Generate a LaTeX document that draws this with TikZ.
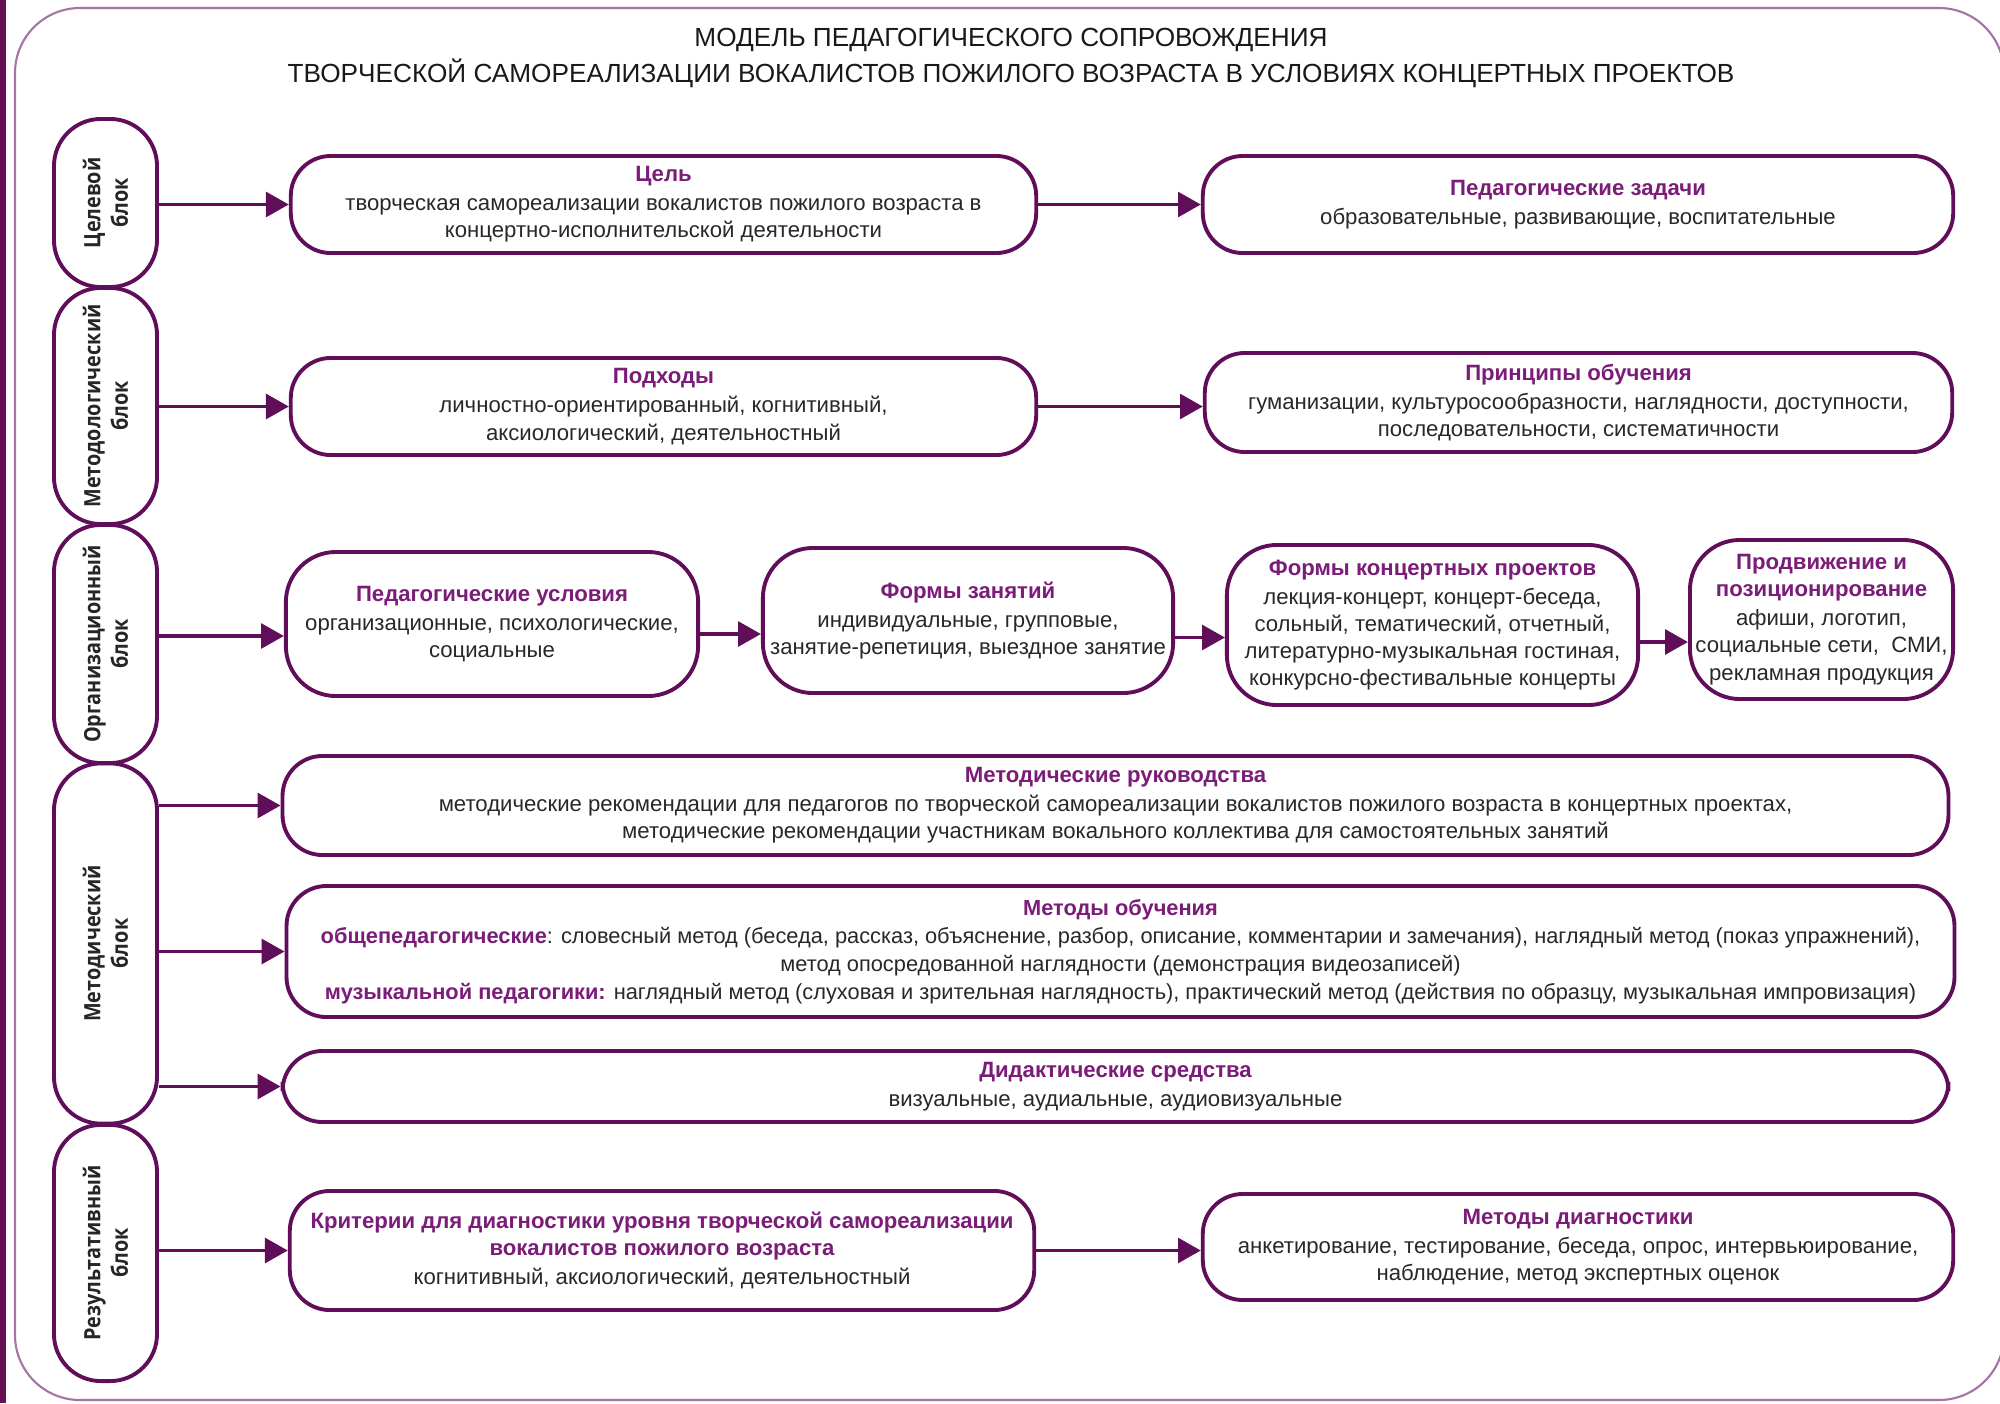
\documentclass[tikz,border=0pt]{standalone}
\usepackage{fontspec}
\setmainfont{Liberation Sans}
\newfontfamily\lblfont{Open Sans}[FakeStretch=0.88]
\usetikzlibrary{arrows.meta,calc}
\definecolor{linec}{RGB}{96,14,90}
\definecolor{ttlc}{RGB}{122,28,120}
\definecolor{txtc}{RGB}{40,40,40}
\definecolor{framec}{RGB}{165,115,165}
\definecolor{barc}{RGB}{100,16,82}
\newcommand\bxt[1]{{\color{ttlc}\bfseries #1}}
\begin{document}
\begin{tikzpicture}[x=0.01cm,y=-0.01cm,
  box/.style={draw=linec, line width=1.1pt, rounded corners=0.4cm, align=center, inner sep=0pt, fill=white,
    font=\fontsize{6.3}{7.7}\selectfont, text=txtc},
  rbox/.style={box, rounded corners=0.5cm},
  pill/.style={draw=linec, line width=1.1pt, rounded corners=0.47cm, minimum width=1.03cm, inner sep=0pt},
  lbl/.style={rotate=90, align=center, font=\lblfont\bfseries\fontsize{6.4}{7.8}\selectfont, text=black!85},
  arr/.style={draw=linec, line width=1.1pt, -{Triangle[length=6.5pt,width=7pt]}},
  frame/.style={draw=framec, line width=0.6pt, rounded corners=0.65cm}]
\useasboundingbox (0,0) rectangle (2000,1403);
\fill[white] (0,0) rectangle (2000,1403);
\draw[frame] (15,8) rectangle (2004,1400);
\fill[barc] (0,0) rectangle (6,1403);

\node[align=center, font=\fontsize{7.45}{10}\selectfont, text=black!90] (title) at (1011,58)
  {МОДЕЛЬ ПЕДАГОГИЧЕСКОГО СОПРОВОЖДЕНИЯ\\ТВОРЧЕСКОЙ САМОРЕАЛИЗАЦИИ ВОКАЛИСТОВ ПОЖИЛОГО ВОЗРАСТА В УСЛОВИЯХ КОНЦЕРТНЫХ ПРОЕКТОВ};

% left blocks
\node[pill, minimum height=1.68cm] (b1) at (105.5,203) {};
\node[lbl] (b1t) at (b1) {Целевой\\блок};
\node[pill, minimum height=2.36cm] (b2) at (105.5,406) {};
\node[lbl] (b2t) at (b2) {Методологический\\блок};
\node[pill, minimum height=2.38cm] (b3) at (105.5,644) {};
\node[lbl] (b3t) at (b3) {Организационный\\блок};
\node[pill, minimum height=3.60cm] (b4) at (105.5,943.5) {};
\node[lbl] (b4t) at (b4) {Методический\\блок};
\node[pill, minimum height=2.56cm] (b5) at (105.5,1253) {};
\node[lbl] (b5t) at (b5) {Результативный\\блок};

% row 1
\node[box, minimum width=7.45cm, minimum height=0.97cm] (cel) at (663.5,204.5)
  {\bxt{Цель}\\[0.6pt]творческая самореализации вокалистов пожилого возраста в\\концертно-исполнительской деятельности};
\node[box, minimum width=7.50cm, minimum height=0.97cm] (zad) at (1578,204.5)
  {\bxt{Педагогические задачи}\\[0.6pt]образовательные, развивающие, воспитательные};

% row 2
\node[box, minimum width=7.45cm, minimum height=0.97cm] (pod) at (663.5,406.5)
  {\bxt{Подходы}\\[0.6pt]личностно-ориентированный, когнитивный,\\аксиологический, деятельностный};
\node[box, minimum width=7.47cm, minimum height=0.99cm] (pri) at (1578.5,402.5)
  {\bxt{Принципы обучения}\\[0.6pt]гуманизации, культуросообразности, наглядности, доступности,\\последовательности, систематичности};

% row 3
\node[rbox, minimum width=4.12cm, minimum height=1.44cm] (usl) at (492,624)
  {\bxt{Педагогические условия}\\[0.6pt]организационные, психологические,\\социальные};
\node[rbox, minimum width=4.10cm, minimum height=1.45cm] (zan) at (968,620.5)
  {\bxt{Формы занятий}\\[0.6pt]индивидуальные, групповые,\\занятие-репетиция, выездное занятие};
\node[rbox, minimum width=4.11cm, minimum height=1.60cm] (kon) at (1432.5,625)
  {\bxt{Формы концертных проектов}\\[0.6pt]лекция-концерт, концерт-беседа,\\сольный, тематический, отчетный,\\литературно-музыкальная гостиная,\\конкурсно-фестивальные концерты};
\node[rbox, minimum width=2.63cm, minimum height=1.59cm] (pro) at (1821.5,619.5)
  {\bxt{Продвижение и}\\\bxt{позиционирование}\\[0.6pt]афиши, логотип,\\социальные сети,\ \ СМИ,\\рекламная продукция};

% row 4
\node[box, minimum width=16.65cm, minimum height=0.99cm] (ruk) at (1115.5,805.5)
  {\bxt{Методические руководства}\\[0.6pt]методические рекомендации для педагогов по творческой самореализации вокалистов пожилого возраста в концертных проектах,\\методические рекомендации участникам вокального коллектива для самостоятельных занятий};
\node[box, minimum width=16.67cm, minimum height=1.31cm, font=\fontsize{6.2}{8}\selectfont] (obu) at (1120.5,951.5)
  {\bxt{Методы обучения}\\\bxt{общепедагогические}: словесный метод (беседа, рассказ, объяснение, разбор, описание, комментарии и замечания), наглядный метод (показ упражнений),\\метод опосредованной наглядности (демонстрация видеозаписей)\\\bxt{музыкальной педагогики:} наглядный метод (слуховая и зрительная наглядность), практический метод (действия по образцу, музыкальная импровизация)};
\node[box, minimum width=16.65cm, minimum height=0.71cm] (did) at (1115.5,1086.5)
  {\bxt{Дидактические средства}\\[0.6pt]визуальные, аудиальные, аудиовизуальные};

% row 5
\node[box, minimum width=7.44cm, minimum height=1.19cm] (kri) at (662,1250.5)
  {\bxt{Критерии для диагностики уровня творческой самореализации}\\\bxt{вокалистов пожилого возраста}\\[0.6pt]когнитивный, аксиологический, деятельностный};
\node[box, minimum width=7.50cm, minimum height=1.06cm] (dia) at (1578,1247)
  {\bxt{Методы диагностики}\\[0.6pt]анкетирование, тестирование, беседа, опрос, интервьюирование,\\наблюдение, метод экспертных оценок};

% arrow anchor points on box borders (row 3 arrows sit below the box centres)
\coordinate (uslin) at ($(usl.west)+(0,12)$);
\coordinate (uslout) at ($(usl.east)+(0,10)$);
\coordinate (zanout) at ($(zan.east)+(0,17)$);
\coordinate (konout) at ($(kon.east)+(0,17)$);

% arrows
\draw[arr] (b1.east |- cel.west) -- (cel.west);
\draw[arr] (cel.east) -- (cel.east -| zad.west);
\draw[arr] (b2.east |- pod.west) -- (pod.west);
\draw[arr] (pod.east) -- (pod.east -| pri.west);
\draw[arr] (b3.east |- uslin) -- (uslin);
\draw[arr] (uslout) -- (uslout -| zan.west);
\draw[arr] (zanout) -- (zanout -| kon.west);
\draw[arr] (konout) -- (konout -| pro.west);
\draw[arr] (b4.east |- ruk.west) -- (ruk.west);
\draw[arr] (b4.east |- obu.west) -- (obu.west);
\draw[arr] (b4.east |- did.west) -- (did.west);
\draw[arr] (b5.east |- kri.west) -- (kri.west);
\draw[arr] (kri.east) -- (kri.east -| dia.west);
\end{tikzpicture}
\end{document}
